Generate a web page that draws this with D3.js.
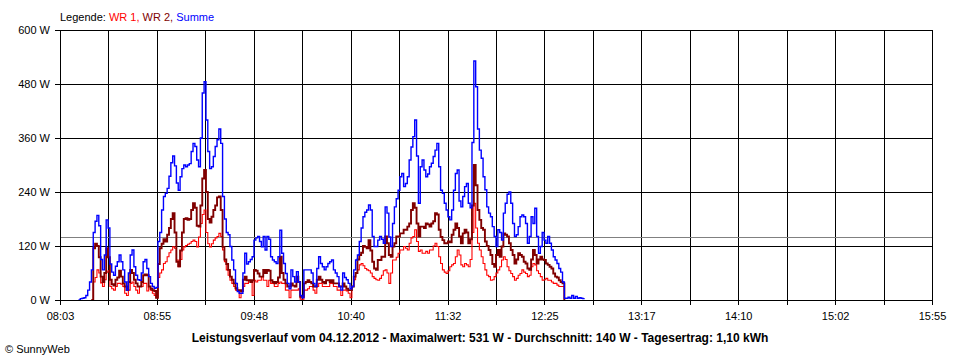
<!DOCTYPE html>
<html>
<head>
<meta charset="utf-8">
<script src="https://cdn.jsdelivr.net/npm/d3@7"></script>
<style>
  html, body { margin: 0; padding: 0; background: #fff; }
  svg { display: block; font-family: "Liberation Sans", Arial, sans-serif; }
</style>
</head>
<body>
<svg id="chart" width="960" height="360"></svg>
<script>
// ---- Data ----
const axisStart = "08:03";
const axisEnd = "15:55";
const xTickLabels = ["08:03","08:55","09:48","10:40","11:32","12:25","13:17","14:10","15:02","15:55"];
const yTickValues = [0, 120, 240, 360, 480, 600];
const sampleStart = "08:13";   // first sample, one sample per minute
const legendNames = ["WR 1", "WR 2", "Summe"];
const averageW = 140;
const titleText = "Leistungsverlauf vom 04.12.2012 - Maximalwert: 531 W - Durchschnitt: 140 W - Tagesertrag: 1,10 kWh";

const summe = [
  0,3,4,5,10,22,40,67,150,175,
  188,165,90,67,100,178,160,80,62,55,
  75,85,100,85,67,40,22,60,100,111,
  74,55,45,44,60,85,90,70,52,37,
  30,26,28,130,150,200,230,237,248,275,
  305,320,298,260,244,274,292,300,296,300,
  303,330,348,341,311,296,360,460,485,400,
  330,292,296,319,341,356,380,348,230,180,
  150,145,119,89,67,37,19,15,15,60,
  104,80,85,90,96,133,138,141,130,118,
  141,111,141,135,96,89,85,81,96,155,
  104,81,59,37,25,67,52,40,63,40,
  10,5,67,67,67,67,60,37,30,70,
  96,81,74,67,74,81,85,89,67,60,
  52,30,22,60,50,45,37,25,30,67,
  89,100,130,160,185,195,200,211,200,141,
  119,119,133,141,135,126,207,193,140,119,
  170,207,225,244,274,281,252,259,274,311,
  340,363,400,320,215,296,311,289,274,280,
  296,304,319,333,348,296,244,237,215,200,
  185,178,200,244,281,289,220,207,230,252,
  259,215,205,350,531,474,380,333,315,274,
  245,207,193,185,163,141,119,156,150,133,
  193,215,235,240,215,170,141,145,163,185,
  189,185,170,126,141,185,170,204,141,104,
  119,150,133,126,141,126,111,96,89,81,
  70,62,40,4,4,6,4,10,4,8,
  4,5,4,3,3
];
const wr2 = [
  null,null,null,null,null,null,null,0,115,125,
  120,95,52,40,60,115,95,45,35,32,
  45,50,65,52,37,30,22,40,67,60,
  45,37,30,30,40,55,57,55,30,25,
  22,20,5,80,115,125,135,130,145,160,
  180,193,150,85,75,110,150,180,182,178,
  180,200,215,205,165,163,210,270,289,240,
  180,172,185,200,210,228,230,200,118,90,
  80,67,52,45,37,26,22,22,20,45,
  52,44,44,40,44,67,65,59,52,52,
  67,60,67,65,44,40,37,40,50,96,
  60,45,37,30,30,37,32,30,52,40,
  7,7,37,40,44,40,37,30,30,45,
  52,45,40,37,44,44,40,44,37,37,
  37,30,30,37,30,25,22,22,30,52,
  60,90,100,105,120,118,115,133,110,85,
  70,67,89,89,96,96,141,126,100,96,
  119,126,141,141,148,148,156,156,163,170,
  200,215,205,170,141,163,163,160,170,168,
  163,170,175,193,190,156,140,133,126,126,
  130,128,145,156,170,160,141,126,148,156,
  150,126,135,210,300,255,200,178,160,156,
  130,120,111,100,80,74,100,111,96,119,
  148,145,141,126,111,100,81,90,104,100,
  96,85,81,70,67,90,111,100,81,90,
  96,90,89,81,78,74,70,59,52,50,
  44,40,37,0,null,null,null,null,null,null,
  null,null,null,null,null
];
const wr1 = [
  null,null,null,null,null,null,null,0,40,50,
  67,60,38,30,45,62,65,30,25,22,
  30,37,37,35,30,15,10,22,37,40,
  30,22,15,30,30,37,37,20,30,22,
  15,10,5,50,60,67,81,85,96,105,
  111,118,115,89,74,90,111,118,121,124,
  126,130,133,130,118,140,170,190,200,150,
  125,118,125,133,138,141,148,141,111,85,
  67,55,44,37,30,22,19,5,19,30,
  37,37,44,40,10,44,40,44,44,52,
  44,44,30,44,37,37,30,30,37,40,
  37,37,22,22,5,22,22,22,22,25,
  2,0,22,22,25,30,30,22,15,30,
  37,37,30,30,30,30,37,37,30,30,
  22,22,10,22,22,20,15,5,30,45,
  60,67,78,81,76,70,67,65,60,52,
  48,45,44,48,55,65,67,60,37,60,
  89,89,95,104,111,111,119,115,111,126,
  138,141,156,130,108,111,104,104,108,104,
  111,111,120,126,119,96,81,67,62,59,
  65,74,78,81,96,111,100,78,74,81,
  78,74,90,150,215,160,126,111,96,81,
  67,55,52,44,45,52,60,67,74,89,
  96,90,74,65,59,52,44,48,55,59,
  67,62,59,52,55,74,81,78,65,59,
  52,44,45,48,44,44,40,37,37,33,
  30,30,30,0,null,null,null,null,null,null,
  null,null,null,null,null
];

// ---- Helpers ----
const toMin = s => { const [h, m] = s.split(":").map(Number); return h * 60 + m; };
const t0 = toMin(axisStart), t1 = toMin(axisEnd);
const s0 = toMin(sampleStart) - t0;
const nTicks = 18;

const svg = d3.select("#chart");
const plotLeft = 60, plotRight = 932, plotTop = 30, plotBottom = 300;

const x = d3.scaleLinear().domain([0, t1 - t0]).range([plotLeft, plotRight]);
const y = d3.scaleLinear().domain([0, 600]).range([plotBottom, plotTop]);
const px = v => Math.round(v) + 0.5;

const tickVals = d3.range(nTicks + 1).map(i => i * (t1 - t0) / nTicks);

// Grid
const grid = svg.append("g").attr("stroke", "#000").attr("stroke-width", 1).attr("shape-rendering", "crispEdges");
grid.selectAll("line.h").data(yTickValues).join("line").attr("class", "h")
  .attr("x1", plotLeft).attr("x2", plotRight + 0.5)
  .attr("y1", d => px(y(d))).attr("y2", d => px(y(d)));
grid.selectAll("line.v").data(tickVals).join("line").attr("class", "v")
  .attr("x1", d => px(x(d))).attr("x2", d => px(x(d)))
  .attr("y1", plotTop).attr("y2", plotBottom);

// Average line
svg.append("line")
  .attr("x1", plotLeft).attr("x2", plotRight)
  .attr("y1", px(y(averageW))).attr("y2", px(y(averageW)))
  .attr("stroke", "#808080").attr("shape-rendering", "crispEdges");

// Series
const series = [
  { name: legendNames[0], values: wr1, color: "#ff0000", width: 1.1 },
  { name: legendNames[1], values: wr2, color: "#800000", width: 1.9 },
  { name: legendNames[2], values: summe, color: "#0000ff", width: 1.4 }
];
const line = d3.line()
  .defined(d => d.v !== null)
  .x(d => x(d.t)).y(d => y(d.v))
  .curve(d3.curveStepAfter);
series.forEach(s => {
  const pts = s.values.map((v, i) => ({ t: s0 + i, v }));
  svg.append("path").datum(pts)
    .attr("d", line)
    .attr("fill", "none")
    .attr("stroke", s.color)
    .attr("stroke-width", s.width)
    .attr("stroke-linejoin", "miter");
});

// Axes
const xAxis = d3.axisBottom(x).tickValues(tickVals).tickSize(5).tickSizeOuter(0).tickPadding(7)
  .tickFormat((d, i) => i % 2 === 0 ? xTickLabels[i / 2] : "");
const gx = svg.append("g").attr("transform", `translate(0,${plotBottom})`).call(xAxis);
const yAxis = d3.axisLeft(y).tickValues(yTickValues).tickSize(5).tickSizeOuter(0).tickPadding(5)
  .tickFormat(d => d + " W");
const gy = svg.append("g").attr("transform", `translate(${plotLeft},0)`).call(yAxis);
[gx, gy].forEach(g => {
  g.selectAll("text").attr("font-size", 11).attr("fill", "#000")
    .attr("font-family", "'Liberation Sans', Arial, sans-serif");
  g.selectAll("line,path").attr("stroke", "#000").attr("shape-rendering", "crispEdges");
});

// Legend
const leg = svg.append("text").attr("x", plotLeft).attr("y", 21).attr("font-size", 11);
leg.append("tspan").attr("fill", "#000").text("Legende: ");
leg.append("tspan").attr("fill", "#ff0000").text(legendNames[0] + ", ");
leg.append("tspan").attr("fill", "#800000").text(legendNames[1] + ", ");
leg.append("tspan").attr("fill", "#0000ff").text(legendNames[2]);

// Title
svg.append("text").attr("x", 480).attr("y", 342).attr("text-anchor", "middle")
  .attr("font-size", 12).attr("font-weight", "bold").attr("fill", "#000").text(titleText);

// Copyright
svg.append("text").attr("x", 5).attr("y", 353).attr("font-size", 11).attr("fill", "#000").text("© SunnyWeb");
</script>
</body>
</html>
